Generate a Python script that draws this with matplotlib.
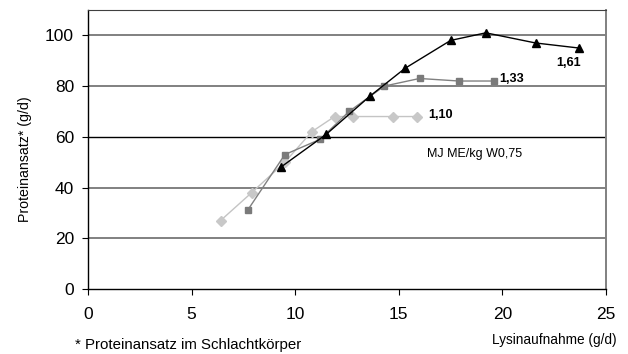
import matplotlib
matplotlib.use("Agg")
import matplotlib.pyplot as plt

plt.rcParams['font.family'] = ['Liberation Sans', 'DejaVu Sans']

# Data
x_110 = [6.4, 7.9, 9.5, 10.8, 11.9, 12.8, 14.7, 15.9]
y_110 = [27, 38, 50, 62, 68, 68, 68, 68]
x_133 = [7.7, 9.5, 11.2, 12.6, 14.3, 16.0, 17.9, 19.6]
y_133 = [31, 53, 59, 70, 80, 83, 82, 82]
x_161 = [9.3, 11.5, 13.6, 15.3, 17.5, 19.2, 21.6, 23.7]
y_161 = [48, 61, 76, 87, 98, 101, 97, 95]
x_ticks = [0, 5, 10, 15, 20, 25]
y_ticks = [0, 20, 40, 60, 80, 100]
grid_levels = [20, 40, 80, 100]
labels = ["1,10", "1,33", "1,61"]

fig = plt.figure(figsize=(6.28, 3.54), dpi=100)
ax = fig.add_axes([88/628, 1 - 289/354, (606-88)/628, (289-10)/354])
ax.set_xlim(0, 25)
ax.set_ylim(0, 110)

for g in grid_levels:
    ax.axhline(g, color='#808080', lw=1.4, zorder=1)
ax.axhline(60, color='black', lw=1.0, zorder=1)

ax.plot(x_110, y_110, color='#c4c4c4', lw=1.0, marker='D', ms=5,
        mfc='#c8c8c8', mec='#c8c8c8', zorder=3)
ax.plot(x_133, y_133, color='#808080', lw=1.0, marker='s', ms=4.5,
        mfc='#7a7a7a', mec='#7a7a7a', zorder=4)
ax.plot(x_161, y_161, color='black', lw=1.0, marker='^', ms=6,
        mfc='black', mec='black', zorder=5)

ax.text(17.0, 68.5, labels[0], fontsize=9.2, fontweight='bold', ha='center', va='center')
ax.text(20.46, 82.8, labels[1], fontsize=9.2, fontweight='bold', ha='center', va='center')
ax.text(23.17, 89, labels[2], fontsize=9.2, fontweight='bold', ha='center', va='center')
ax.text(18.66, 53.3, "MJ ME/kg W0,75", fontsize=9, ha='center', va='center')

ax.set_xticks(x_ticks)
ax.set_yticks(y_ticks)
ax.tick_params(axis='both', direction='out', length=4, width=0.8,
               labelsize=12.5, pad=6)
ax.tick_params(axis='x', pad=9)

for s in ['left', 'bottom']:
    ax.spines[s].set_color('black')
    ax.spines[s].set_linewidth(1.0)
ax.spines['top'].set_color('#404040')
ax.spines['top'].set_linewidth(0.8)
ax.spines['right'].set_color('#808080')
ax.spines['right'].set_linewidth(1.4)

fig.text(25.5/628, 1 - 159/354, "Proteinansatz* (g/d)", rotation=90,
         fontsize=10.2, ha='center', va='center')
fig.text(617/628, 1 - 340/354, "Lysinaufnahme (g/d)", fontsize=9.8,
         ha='right', va='center')
fig.text(75/628, 1 - 345/354, "* Proteinansatz im Schlachtkörper", fontsize=10.8,
         ha='left', va='center')

fig.savefig("out.png", dpi=100)
